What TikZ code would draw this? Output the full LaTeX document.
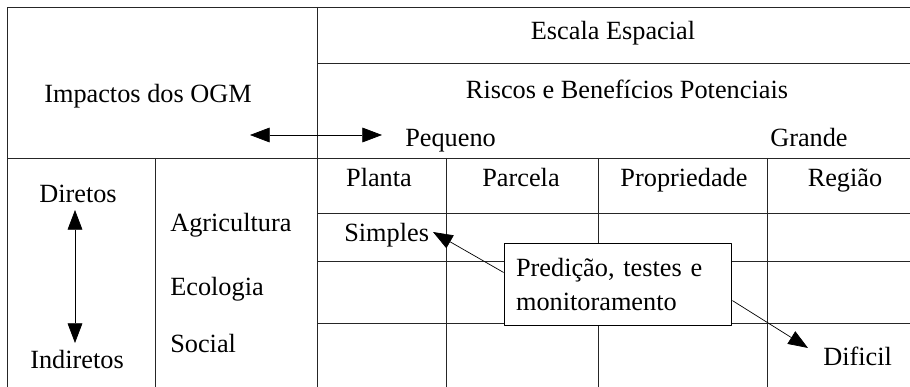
\documentclass[tikz,border=0pt]{standalone}
\usepackage{fontspec}
\setmainfont{Liberation Serif}
\usetikzlibrary{arrows.meta}
\tikzset{
	rede/.style={line width=0.7pt, draw=black!85},
	rotulo/.style={anchor=base, inner sep=0pt},
	caixa/.style={draw, fill=white, line width=0.7pt, align=left, text width=145pt, inner xsep=8.5pt, minimum height=59pt},
	seta/.style={->, line width=0.5pt}
}
\begin{document}
\begin{tikzpicture}[x=0.025cm, y=-0.025cm, font=\fontsize{18.7}{23.5}\selectfont, line join=round, >={Triangle[length=14pt,width=10.5pt]}]
			\useasboundingbox (0,0) rectangle (910,387);
			\draw[rede] (7,387)--(7,7)--(910,7);
			\draw[rede] (317,7)--(317,387);
			\draw[rede] (317,63)--(910,63);
			\draw[rede] (7,158)--(910,158);
			\draw[rede] (155,158)--(155,387);
			\foreach \xc in {446,598,767}
				\draw[rede] (\xc,158)--(\xc,387);
			\foreach \yc in {213,261,323}
				\draw[rede] (317,\yc)--(910,\yc);
			\node[rotulo] (imp) at (148,103) {Impactos dos OGM};
			\node[rotulo] (esc) at (613,40) {Escala Espacial};
			\node[rotulo] (ris) at (627,99) {Riscos e Benefícios Potenciais};
			\node[rotulo, anchor=base west] (peq) at (405,147) {Pequeno};
			\node[rotulo, anchor=base west] (gra) at (770,147) {Grande};
			\node[rotulo] (pla) at (379,187) {Planta};
			\node[rotulo] (par) at (521,187) {Parcela};
			\node[rotulo] (pro) at (684,187) {Propriedade};
			\node[rotulo] (reg) at (845,187) {Região};
			\node[rotulo] (dir) at (78,202) {Diretos};
			\node[rotulo] (ind) at (77,368) {Indiretos};
			\node[rotulo, anchor=base west] (agr) at (170,232) {Agricultura};
			\node[rotulo, anchor=base west] (eco) at (170,295) {Ecologia};
			\node[rotulo, anchor=base west] (soc) at (170,352) {Social};
			\node[rotulo, anchor=base west] (sim) at (344,241) {Simples};
			\node[rotulo, anchor=base west] (dif) at (823,365) {Dificil};
			\node[caixa] (pred) at (618,284.5) {Predição, testes e\\monitoramento};
			\coordinate (esq) at (250,135);
			\coordinate (dirx) at (382,135);
			\coordinate (cima) at (75,210);
			\coordinate (baixo) at (75,343);
			\coordinate (pontasim) at (433,232);
			\coordinate (pontadif) at (808,348);
			\draw[seta, <->] (esq)--(dirx);
			\draw[seta, <->] (cima)--(baixo);
			\draw[seta] (pred.174.5)--(pontasim);
			\draw[seta] (pred.352)--(pontadif);
	\end{tikzpicture}
\end{document}
